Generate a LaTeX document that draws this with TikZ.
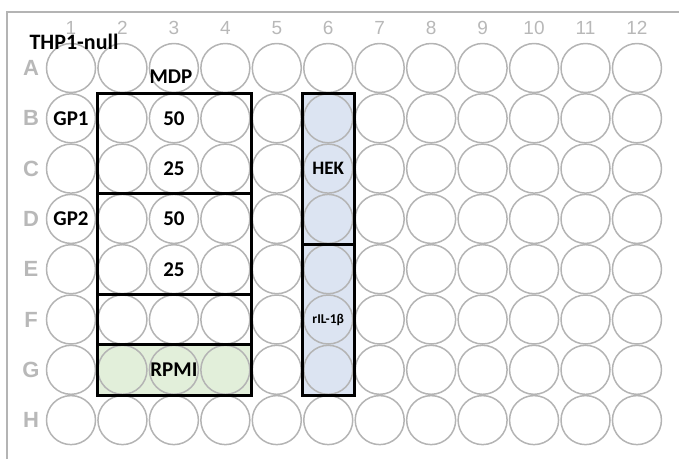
\documentclass[tikz,border=0pt]{standalone}
\usepackage{fontspec}
\newfontfamily\labfont{Carlito Bold}
\newfontfamily\axfont{Liberation Sans}
\newfontfamily\axfontb{Liberation Sans Bold}
\definecolor{wellgrey}{HTML}{B4B4B4}
\definecolor{axgrey}{HTML}{B8B8B8}
\definecolor{hekblue}{HTML}{DCE4F2}
\definecolor{rpmigreen}{HTML}{E2EFDA}
\tikzset{
  well/.style={circle, draw=wellgrey, line width=1.5pt, minimum size=49pt, inner sep=0pt},
  colnum/.style={text=axgrey, font=\axfont\fontsize{19}{19}\selectfont, inner sep=0pt},
  rowlet/.style={text=axgrey, font=\axfontb\fontsize{22}{22}\selectfont, inner sep=0pt},
  lab/.style={font=\labfont\fontsize{21}{21}\selectfont, inner sep=0pt},
  smalllab/.style={font=\labfont\fontsize{13.5}{13.5}\selectfont, inner sep=0pt},
  grpbox/.style={draw=black, line width=3pt},
  frame/.style={draw=wellgrey, line width=2pt}
}
\begin{document}
\begin{tikzpicture}[x=1pt,y=-1pt]
\useasboundingbox (0,0) rectangle (679,459);
% frame
\coordinate (fbl) at (7,459);
\coordinate (ftl) at (7,11.5);
\coordinate (ftr) at (679,11.5);
\draw[frame] (fbl) -- (ftl) -- (ftr);
% fills
\fill[hekblue] (302.5,93.2) rectangle (354,395);
\fill[rpmigreen] (97.3,344.7) rectangle (251.6,395);
% wells
\foreach \r [count=\ri from 0] in {A,B,C,D,E,F,G,H} {
  \node[rowlet] (row\r) at (31,68+\ri*50.3) {\r};
  \foreach \c in {1,...,12} {
    \node[well] (w\r\c) at ({71+(\c-1)*51.45},{68+\ri*50.3}) {};
  }
}
\foreach \c in {1,...,12} {
  \node[colnum] (col\c) at ({71+(\c-1)*51.45},28) {\c};
}
% group boxes
\draw[grpbox] (97.3,93.2) rectangle (251.6,193.8);
\draw[grpbox] (97.3,193.8) rectangle (251.6,294.4);
\draw[grpbox] (97.3,294.4) rectangle (251.6,344.7);
\draw[grpbox] (97.3,344.7) rectangle (251.6,395);
\draw[grpbox] (302.5,93.2) rectangle (354,244);
\draw[grpbox] (302.5,244) rectangle (354,395);
% labels
\node[lab, font=\labfont\fontsize{22}{22}\selectfont] (thp) at (74,42) {THP1-null};
\node[lab] (mdp) at (171,77) {MDP};
\node[lab] (gp1) at (wB1) {GP1};
\node[lab] (gp2) at (wD1) {GP2};
\node[lab] (b50) at (wB3) {50};
\node[lab] (c25) at (wC3) {25};
\node[lab] (d50) at (wD3) {50};
\node[lab] (e25) at (wE3) {25};
\node[lab, font=\labfont\fontsize{19}{19}\selectfont] (hek) at (wC6) {HEK};
\node[smalllab] (ril) at (wF6) {rIL-1β};
\node[lab] (rpmi) at (wG3) {RPMI};
\end{tikzpicture}
\end{document}
